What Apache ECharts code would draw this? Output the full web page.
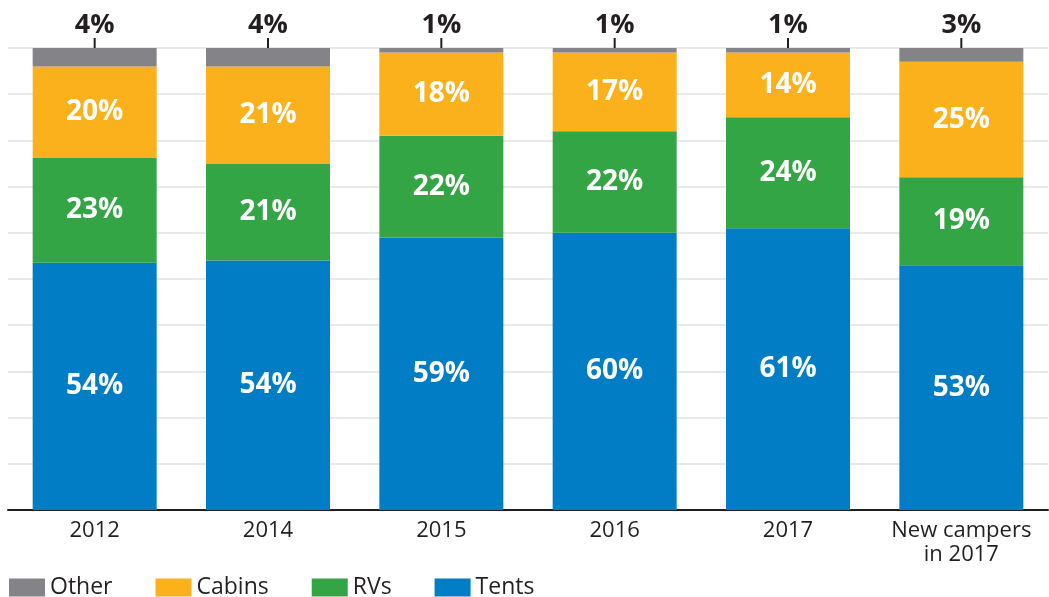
<!DOCTYPE html>
<html>
<head>
<meta charset="utf-8">
<script src="https://cdn.jsdelivr.net/npm/echarts@6/dist/echarts.min.js"></script>
<style>
  html, body { margin: 0; padding: 0; background: #fff; }
  #chart { width: 1049px; height: 597px; }
</style>
</head>
<body>
<div id="chart"></div>
<script>
// share of campers by accommodation type (%)
var years = ['2012', '2014', '2015', '2016', '2017', 'New campers\nin 2017'];
var tents = [53.5, 54, 59, 60, 61, 53];
var rvs = [22.8, 21, 22, 22, 24, 19];
var cabins = [19.7, 21, 18, 17, 14, 25];
var other = [4, 4, 1, 1, 1, 3];

var font = '"Open Sans", sans-serif';
var dark = '#231f20';

function inside() {
  return {
    show: true,
    position: 'inside',
    color: '#fff',
    fontFamily: font,
    fontWeight: 'bold',
    fontSize: 28,
    formatter: function (p) { return Math.round(p.value) + '%'; }
  };
}

var chart = echarts.init(document.getElementById('chart'));
chart.setOption({
  animation: false,
  grid: { left: 8, right: 1, top: 48, bottom: 87 },
  legend: {
    data: ['Other', 'Cabins', 'RVs', 'Tents'],
    left: 4,
    top: 571,
    icon: 'rect',
    itemWidth: 36,
    itemHeight: 18,
    itemGap: 43,
    textStyle: { fontFamily: font, fontSize: 23, color: dark }
  },
  xAxis: {
    type: 'category',
    data: years,
    axisLine: { lineStyle: { color: dark, width: 2 } },
    axisTick: { show: false },
    axisLabel: { interval: 0, fontFamily: font, fontSize: 22, color: dark, margin: 9, lineHeight: 24 }
  },
  yAxis: {
    type: 'value',
    min: 0,
    max: 100,
    interval: 10,
    axisLine: { show: false },
    axisTick: { show: false },
    axisLabel: { show: false },
    splitLine: { lineStyle: { color: '#e2e2e2', width: 1.5 } }
  },
  series: [
    { name: 'Tents', type: 'bar', stack: 'a', barWidth: 124, data: tents,
      itemStyle: { color: '#007dc5' }, label: inside() },
    { name: 'RVs', type: 'bar', stack: 'a', data: rvs,
      itemStyle: { color: '#33a544' }, label: inside() },
    { name: 'Cabins', type: 'bar', stack: 'a', data: cabins,
      itemStyle: { color: '#fbb11b' }, label: inside() },
    { name: 'Other', type: 'bar', stack: 'a', data: other,
      itemStyle: { color: '#848488' },
      label: {
        show: true,
        position: 'top',
        distance: 0,
        formatter: function (p) { return '{v|' + p.value + '%}\n{t|}'; },
        rich: {
          v: { fontFamily: font, fontWeight: 'bold', fontSize: 27, color: dark, lineHeight: 26, align: 'center' },
          t: { width: 2, height: 10, backgroundColor: dark, align: 'center' }
        }
      }
    }
  ]
});
</script>
</body>
</html>
